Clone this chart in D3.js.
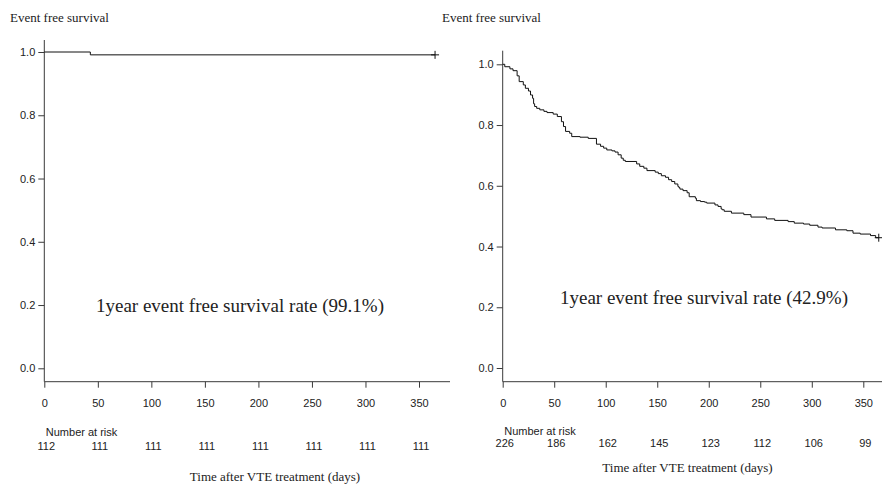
<!DOCTYPE html>
<html>
<head>
<meta charset="utf-8">
<script src="https://cdn.jsdelivr.net/npm/d3@7"></script>
<style>
  html, body { margin: 0; padding: 0; background: #fff; }
  svg { display: block; }
</style>
</head>
<body>
<svg id="chart" width="882" height="487"></svg>
<script>
// ---------- data ----------
const xTickValues = [0, 50, 100, 150, 200, 250, 300, 350];
const yTickValues = [0.0, 0.2, 0.4, 0.6, 0.8, 1.0];

const leftTimes = [0, 43];
const leftSurv  = [1.000, 0.991];
const leftEnd   = 365;
const leftRisk  = [112, 111, 111, 111, 111, 111, 111, 111];
const leftRate  = "1year event free survival rate (99.1%)";

const rightTimes = [0, 2, 7, 10, 14, 16, 20, 22, 25, 27, 29, 30, 31, 33, 36, 40, 43, 49, 53, 57, 59, 61, 65, 67, 75, 83,
  91, 95, 98, 101, 106, 109, 112, 115, 117, 119, 130, 133, 137, 140, 148, 151, 154, 158, 161, 164, 167, 170, 171, 172,
  175, 179, 181, 187, 188, 192, 196, 198, 206, 209, 212, 213, 215, 222, 234, 241, 256, 264, 277, 283, 292, 298, 306,
  310, 323, 334, 340, 347, 357, 362];
const rightSurv = [1.000, 0.992, 0.985, 0.979, 0.962, 0.943, 0.932, 0.921, 0.912, 0.899, 0.888, 0.870, 0.861, 0.855,
  0.850, 0.845, 0.841, 0.836, 0.828, 0.811, 0.795, 0.779, 0.773, 0.762, 0.760, 0.756,
  0.737, 0.730, 0.724, 0.718, 0.715, 0.711, 0.702, 0.691, 0.684, 0.680, 0.672, 0.664, 0.658, 0.650, 0.645, 0.640,
  0.633, 0.628, 0.620, 0.614, 0.606, 0.598, 0.594, 0.589,
  0.584, 0.577, 0.564, 0.559, 0.551, 0.548, 0.546, 0.543, 0.537, 0.532, 0.524, 0.521, 0.516, 0.510, 0.505, 0.497,
  0.491, 0.486, 0.482, 0.477, 0.474, 0.470, 0.464,
  0.461, 0.455, 0.452, 0.444, 0.441, 0.436, 0.429];
const rightEnd  = 365;
const rightRisk = [226, 186, 162, 145, 123, 112, 106, 99];
const rightRate = "1year event free survival rate (42.9%)";

const yTitle = "Event free survival";
const xTitle = "Time after VTE treatment (days)";
const riskLabel = "Number at risk";

// ---------- layout ----------
const panels = [
  { times: leftTimes, surv: leftSurv, end: leftEnd, risk: leftRisk, rate: leftRate,
    x0: 44.3, x350: 419, xAxisEnd: 450, y0: 368.3, y1: 52, yTop: 40, xAxisY: 381.7,
    titleX: 10, titleY: 22, rateX: 240, rateY: 312, riskLabelY: 436, riskY: 450, xTitleX: 275, xTitleY: 481 },
  { times: rightTimes, surv: rightSurv, end: rightEnd, risk: rightRisk, rate: rightRate,
    x0: 502.7, x350: 863.3, xAxisEnd: 882, y0: 368, y1: 64.3, yTop: 50.7, xAxisY: 381.7,
    titleX: 442, titleY: 22, rateX: 704, rateY: 304, riskLabelY: 434.5, riskY: 446.7, xTitleX: 687.5, xTitleY: 472 }
];

const svg = d3.select("#chart");
const axisColor = "#3a3a3a";
const textColor = "#222";
const sans = "Arial, 'Liberation Sans', sans-serif";
const serif = "'Times New Roman', 'Liberation Serif', serif";

panels.forEach(p => {
  const g = svg.append("g");
  const x = d3.scaleLinear().domain([0, 350]).range([p.x0, p.x350]);
  const y = d3.scaleLinear().domain([0, 1]).range([p.y0, p.y1]);

  // y axis
  const yAxis = d3.axisLeft(y).tickValues(yTickValues).tickFormat(d3.format(".1f"))
    .tickSize(6).tickPadding(3).tickSizeOuter(0);
  const gy = g.append("g").attr("transform", `translate(${p.x0},0)`).call(yAxis);
  gy.select(".domain").remove();
  gy.append("line").attr("x1", 0).attr("x2", 0).attr("y1", p.yTop).attr("y2", p.xAxisY)
    .attr("stroke", axisColor);
  gy.selectAll(".tick line").attr("stroke", axisColor);
  gy.selectAll(".tick text").attr("fill", textColor).style("font-family", sans).style("font-size", "11px");

  // x axis
  const xAxis = d3.axisBottom(x).tickValues(xTickValues).tickFormat(d3.format("d"))
    .tickSize(6).tickPadding(12).tickSizeOuter(0);
  const gx = g.append("g").attr("transform", `translate(0,${p.xAxisY})`).call(xAxis);
  gx.select(".domain").remove();
  gx.append("line").attr("x1", p.x0).attr("x2", p.xAxisEnd).attr("y1", 0).attr("y2", 0)
    .attr("stroke", axisColor);
  gx.selectAll(".tick line").attr("stroke", axisColor);
  gx.selectAll(".tick text").attr("fill", textColor).style("font-family", sans).style("font-size", "11px");

  // curve
  const pts = p.times.map((t, i) => [t, p.surv[i]]);
  pts.push([p.end, p.surv[p.surv.length - 1]]);
  const line = d3.line().x(d => x(d[0])).y(d => y(d[1])).curve(d3.curveStepAfter);
  g.append("path").attr("d", line(pts)).attr("fill", "none")
    .attr("stroke", "#111").attr("stroke-width", 1);

  // censor mark
  const cx = x(p.end), cy = y(p.surv[p.surv.length - 1]);
  g.append("line").attr("x1", cx - 4).attr("x2", cx + 4).attr("y1", cy).attr("y2", cy).attr("stroke", "#111");
  g.append("line").attr("x1", cx).attr("x2", cx).attr("y1", cy - 4).attr("y2", cy + 4).attr("stroke", "#111");

  // titles
  g.append("text").attr("x", p.titleX).attr("y", p.titleY).text(yTitle)
    .attr("fill", textColor).style("font-family", serif).style("font-size", "13px");
  g.append("text").attr("x", p.xTitleX).attr("y", p.xTitleY).attr("text-anchor", "middle").text(xTitle)
    .attr("fill", textColor).style("font-family", serif).style("font-size", "13px");

  // annotation
  g.append("text").attr("x", p.rateX).attr("y", p.rateY).attr("text-anchor", "middle").text(p.rate)
    .attr("fill", textColor).style("font-family", serif).style("font-size", "19px");

  // number at risk
  g.append("text").attr("x", p.x0 + 1.5).attr("y", p.riskLabelY).text(riskLabel)
    .attr("fill", textColor).style("font-family", sans).style("font-size", "11px");
  g.selectAll("text.risk").data(p.risk).enter().append("text").attr("class", "risk")
    .attr("x", (d, i) => x(xTickValues[i]) + 2).attr("y", p.riskY).attr("text-anchor", "middle")
    .text(d => d).attr("fill", textColor).style("font-family", sans).style("font-size", "11px");
});
</script>
</body>
</html>
